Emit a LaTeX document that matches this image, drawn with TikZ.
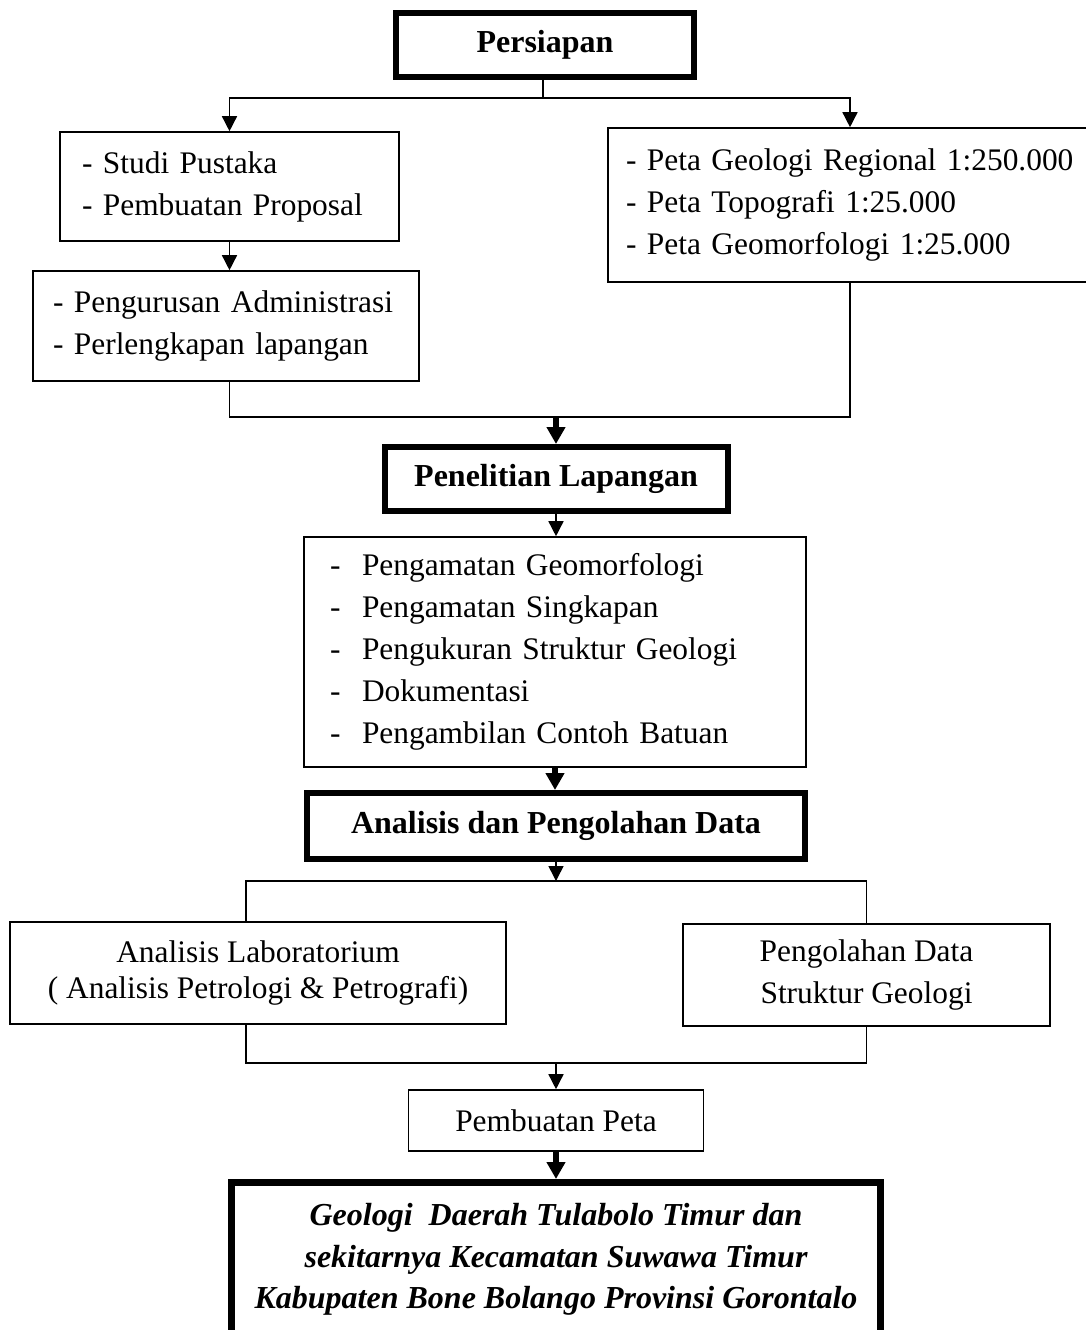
\documentclass[tikz,border=0pt]{standalone}
\usepackage{fontspec}
\setmainfont{Liberation Serif}
\usetikzlibrary{arrows.meta}

\begin{document}
\begin{tikzpicture}[x=1pt, y=-1pt,
  box/.style={draw, line width=1.6pt, inner sep=0pt, font=\fontsize{31.4}{42}\selectfont},
  mainbox/.style={draw, line width=6pt, inner sep=0pt, font=\fontsize{32}{42}\selectfont\bfseries},
  conn/.style={line width=1.5pt},
  arr/.style={line width=1.5pt, -{Triangle[length=15pt, width=15pt]}},
  bigarr/.style={line width=5.5pt, -{Triangle[length=17pt, width=18pt]}}]
  \useasboundingbox (0, 0) rectangle (1086, 1330);
  \clip (0, 0) rectangle (1086, 1330);

  % Persiapan
  \node[mainbox, minimum width=298pt, minimum height=64pt] (persiapan) at (545, 45) {Persiapan};

  \node[box, minimum width=339pt, minimum height=109pt, text width=295pt, align=left] (pustaka) at (229.5, 186.5) {
    \mbox{- Studi Pustaka}\\\mbox{- Pembuatan Proposal}
  };
  \node[box, minimum width=386pt, minimum height=110pt, text width=346pt, align=left] (admin) at (226, 326) {
    \mbox{- Pengurusan Administrasi}\\\mbox{- Perlengkapan lapangan}
  };
  \node[box, minimum width=484pt, minimum height=154pt, text width=448pt, align=left] (peta) at (850, 205) {
    \mbox{- Peta Geologi Regional 1:250.000}\\\mbox{- Peta Topografi 1:25.000}\\\mbox{- Peta Geomorfologi 1:25.000}
  };

  \coordinate (forkA) at (543, 98);
  \coordinate (mergeA) at (556, 417);
  \draw[conn] (persiapan.south -| forkA) -- (forkA);
  \draw[arr] (forkA) -| (pustaka.north);
  \draw[arr] (forkA) -| (peta.north);
  \draw[arr] (pustaka.south) -- (pustaka.south |- admin.north);
  \draw[conn] (admin.south -| pustaka.south) |- (peta.south |- mergeA) -- (peta.south);

  % Penelitian Lapangan
  \node[mainbox, minimum width=343pt, minimum height=64pt] (penelitian) at (556, 479) {Penelitian Lapangan};
  \draw[bigarr] (mergeA) -- (mergeA |- penelitian.north);

  \node[box, minimum width=502pt, minimum height=230pt, text width=450pt, align=left] (kegiatan) at (555, 652) {
    \makebox[32pt][l]{-}Pengamatan Geomorfologi\\
    \makebox[32pt][l]{-}Pengamatan Singkapan\\
    \makebox[32pt][l]{-}Pengukuran Struktur Geologi\\
    \makebox[32pt][l]{-}Dokumentasi\\
    \makebox[32pt][l]{-}Pengambilan Contoh Batuan
  };
  \draw[arr] (penelitian.south) -- (penelitian.south |- kegiatan.north);

  % Analisis dan Pengolahan Data
  \node[mainbox, minimum width=498pt, minimum height=66pt] (analisis) at (556, 826) {Analisis dan Pengolahan Data};
  \draw[bigarr] (kegiatan.south) -- (kegiatan.south |- analisis.north);

  \node[box, minimum width=496pt, minimum height=102pt, align=center, font=\fontsize{31.4}{36}\selectfont] (lab) at (258, 973) {
    Analisis Laboratorium\\( Analisis Petrologi \& Petrografi)
  };
  \node[box, minimum width=367pt, minimum height=102pt, align=center] (olahdata) at (866.5, 975) {
    Pengolahan Data\\Struktur Geologi
  };

  \coordinate (forkB) at (556, 881);
  \coordinate (mergeB) at (556, 1063);
  \draw[arr] (analisis.south) -- (forkB);
  \draw[conn] ([xshift=-12pt]lab.north) |- (olahdata.north |- forkB) -- (olahdata.north);
  \draw[conn] ([xshift=-12pt]lab.south) |- (olahdata.south |- mergeB) -- (olahdata.south);

  % Pembuatan Peta
  \node[box, minimum width=295pt, minimum height=61pt] (pembuatan) at (556, 1120.5) {Pembuatan Peta};
  \draw[arr] (mergeB) -- (mergeB |- pembuatan.north);

  % Hasil
  \node[draw, line width=7pt, inner sep=0pt, minimum width=649pt, minimum height=154pt, align=center,
        font=\fontsize{32}{41.5}\selectfont\bfseries\itshape] (hasil) at (556, 1259.5) {
    Geologi\ \ Daerah Tulabolo Timur dan\\sekitarnya Kecamatan Suwawa Timur\\Kabupaten Bone Bolango Provinsi Gorontalo
  };
  \draw[bigarr] (pembuatan.south) -- (pembuatan.south |- hasil.north);
\end{tikzpicture}
\end{document}
